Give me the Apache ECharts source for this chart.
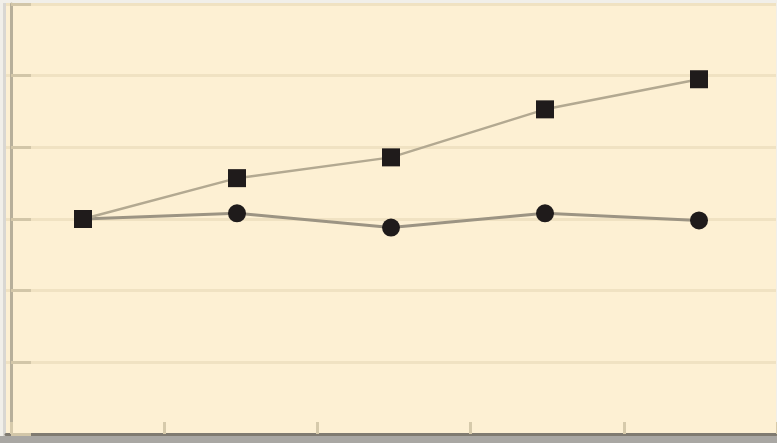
<!DOCTYPE html>
<html>
<head>
<meta charset="utf-8">
<script src="https://cdn.jsdelivr.net/npm/echarts@6/dist/echarts.min.js"></script>
<style>
html,body{margin:0;padding:0;background:#f1efe9;}
#c{width:777px;height:443px;}
</style>
</head>
<body>
<div id="c"></div>
<script>
var categories = ['1', '2', '3', '4', '5'];
var seriesA = [3.0, 3.57, 3.86, 4.53, 4.95];
var seriesB = [3.0, 3.08, 2.88, 3.08, 2.98];
var yTicks = [0, 1, 2, 3, 4, 5, 6];

var chart = echarts.init(document.getElementById('c'), null, {renderer: 'canvas'});
chart.setOption({
  animation: false,
  backgroundColor: '#f1efe9',
  graphic: [
    {type: 'rect', shape: {x: 3, y: 3, width: 8, height: 440}, style: {fill: '#d9d7d2'}, z: -10},
    {type: 'rect', shape: {x: 0, y: 436, width: 777, height: 7}, style: {fill: '#a9a7a3'}, z: -10}
  ],
  grid: [
    {left: 6, right: 1, top: 4, bottom: 9, show: true, backgroundColor: '#fdf0d3', borderWidth: 0},
    {left: 11, right: -4, top: 4, bottom: 9, show: false}
  ],
  xAxis: [
    {
      type: 'category', gridIndex: 0, data: categories, boundaryGap: true,
      axisLine: {show: true, lineStyle: {color: '#807b71', width: 3}},
      axisTick: {show: false},
      axisLabel: {show: false},
      splitLine: {show: false}
    },
    {
      type: 'category', gridIndex: 1, data: categories, boundaryGap: true,
      axisLine: {show: false},
      axisTick: {show: true, inside: true, length: 12, lineStyle: {color: '#d6caab', width: 3}},
      axisLabel: {show: false},
      splitLine: {show: false}
    }
  ],
  yAxis: [
    {
      type: 'value', gridIndex: 0, min: yTicks[0], max: yTicks[yTicks.length - 1], interval: 1,
      offset: -5,
      axisLine: {show: true, lineStyle: {color: '#b7af9a', width: 3}},
      axisTick: {show: true, inside: true, length: 20, lineStyle: {color: '#d2c6a8', width: 3}},
      axisLabel: {show: false},
      splitLine: {show: true, lineStyle: {color: '#f0e2c2', width: 3}}
    },
    {type: 'value', gridIndex: 1, show: false, min: 0, max: 6}
  ],
  series: [
    {
      type: 'line', xAxisIndex: 0, yAxisIndex: 0, data: seriesA,
      symbol: 'rect', symbolSize: 18,
      itemStyle: {color: '#1f1b1b'},
      lineStyle: {color: '#b3a991', width: 2.5},
      z: 3
    },
    {
      type: 'line', xAxisIndex: 0, yAxisIndex: 0, data: seriesB,
      symbol: 'circle', symbolSize: 18,
      itemStyle: {color: '#1f1b1b'},
      lineStyle: {color: '#9c9483', width: 3},
      z: 2
    }
  ]
});
</script>
</body>
</html>
